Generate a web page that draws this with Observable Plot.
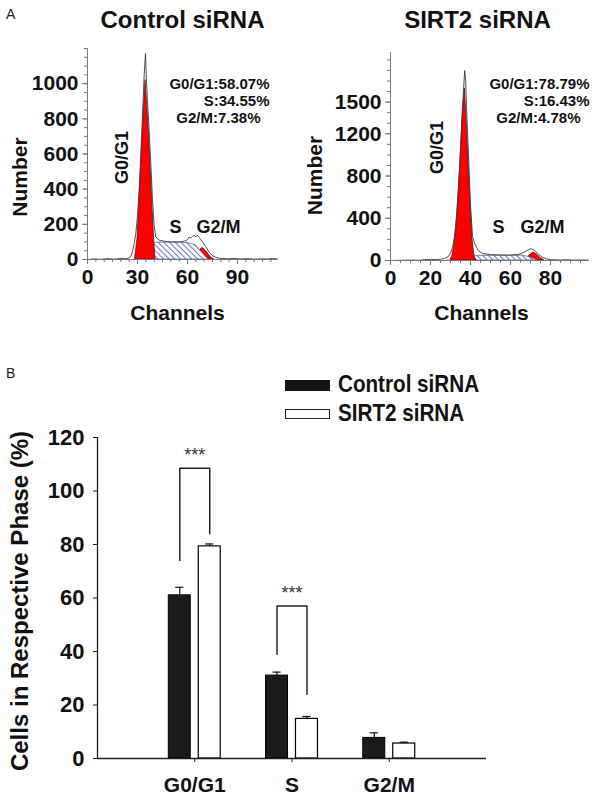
<!DOCTYPE html>
<html>
<head>
<meta charset="utf-8">
<script src="https://cdn.jsdelivr.net/npm/d3@7"></script>
<script src="https://cdn.jsdelivr.net/npm/@observablehq/plot@0.6"></script>
<style>
  html, body { margin: 0; padding: 0; background: #fff; }
  #root { position: relative; width: 600px; height: 803px; overflow: hidden; font-family: "Liberation Sans", Arial, sans-serif; }
  .abs { position: absolute; }
  .panel { position: absolute; left: 0; top: 0; }
</style>
</head>
<body>
<div id="root"></div>
<script>
// ---------------- DATA ----------------
const phaseNames = ["G0/G1", "S", "G2/M"];
const groupNames = ["Control siRNA", "SIRT2 siRNA"];

// Panel A – percentages printed on the histograms
const ctrlPercent = [58.07, 34.55, 7.38];
const sirtPercent = [78.79, 16.43, 4.78];

// Panel A – histogram traces: [channel, number]
const ctrlOutline = [[0,0],[4,3],[8,1],[12,5],[16,2],[20,6],[23,4],[25,9],[26,18],[27,45],[28,90],[29,150],[30,250],[31,400],[32,600],[33,820],[34,1050],[34.8,1172],[35.4,1010],[36,900],[37,730],[38,540],[39,340],[40,190],[41,128],[43,110],[46,104],[50,100],[55,100],[58,104],[60,112],[61,128],[62,122],[63,132],[64,136],[65,128],[66,138],[67,126],[68,112],[69,100],[71,72],[73,42],[75,22],[77,12],[80,6],[84,4],[88,6],[92,3],[96,5],[100,2],[104,4],[108,3],[111,6],[114,3]];
const ctrlG1 = [[28.5,0],[30,120],[31,300],[32,500],[33,700],[34,880],[34.8,1020],[35.8,880],[37,700],[38,500],[39,300],[40,110],[40.8,0]];
const ctrlS = [[33.5,0],[38.8,95],[45,96],[50,96],[55,95],[60,94],[64.8,82],[72.5,0]];
const ctrlG2 = [[64,0],[66,25],[68,58],[69,66],[70,60],[72,38],[74,12],[76,0]];

const sirtOutline = [[0,0],[5,2],[10,4],[14,3],[17,8],[20,10],[23,9],[25,12],[27,20],[29,40],[30,70],[31,120],[32,230],[33,420],[34,700],[35,1050],[36,1450],[37.1,1800],[37.6,1700],[38,1450],[39,1000],[40,520],[41,230],[42,165],[43,125],[44,92],[46,66],[50,56],[55,52],[60,52],[64,58],[66,70],[68,92],[70,112],[71,106],[72,96],[74,60],[76,30],[78,16],[80,8],[84,5],[88,7],[92,4],[95,6],[99,3]];
const sirtG1 = [[30,0],[31,50],[32,150],[33,320],[34,600],[35,950],[36,1350],[37.2,1630],[38,1350],[39,950],[40,550],[41,200],[42,40],[43,0]];
const sirtS = [[31,0],[38,42],[44,44],[50,44],[55,45],[60,44],[66,45],[69,35],[73.5,0]];
const sirtG2 = [[66,0],[68,20],[70,55],[71.5,76],[73,60],[75,25],[77,0]];

const ctrlXTicks = [0, 30, 60, 90];
const ctrlYTicks = [0, 200, 400, 600, 800, 1000];
const sirtXTicks = [0, 20, 40, 60, 80];
const sirtYTicks = [0, 400, 800, 1200, 1500];

// Panel B – mean ± SEM (%)
const controlMean = [61.0, 31.0, 7.7];
const controlErr  = [3.0, 1.3, 1.9];
const sirt2Mean   = [79.3, 14.8, 5.6];
const sirt2Err    = [0.9, 0.9, 0.5];
const barYTicks   = [0, 20, 40, 60, 80, 100, 120];

// Panel B – significance brackets
const sigPhaseIdx   = [0, 1];
const sigLeftFoot   = [74, 39];
const sigTop        = [108.5, 57];
const sigRightFoot  = [84, 24];
const sigLabel      = ["***", "***"];

// ---------------- DRAWING ----------------
const FONT = "'Liberation Sans', Arial, Helvetica, sans-serif";
const root = document.getElementById("root");
const plain = d => String(d);

function addHatch(svg, id) {
  const ns = "http://www.w3.org/2000/svg";
  const defs = document.createElementNS(ns, "defs");
  const pat = document.createElementNS(ns, "pattern");
  const W = 4;
  pat.setAttribute("id", id);
  pat.setAttribute("patternUnits", "userSpaceOnUse");
  pat.setAttribute("width", W);
  pat.setAttribute("height", W);
  pat.setAttribute("patternTransform", "rotate(-45)");
  const bg = document.createElementNS(ns, "rect");
  bg.setAttribute("width", W); bg.setAttribute("height", W); bg.setAttribute("fill", "#ffffff");
  const ln = document.createElementNS(ns, "line");
  ln.setAttribute("x1", "0.5"); ln.setAttribute("y1", "0");
  ln.setAttribute("x2", "0.5"); ln.setAttribute("y2", W);
  ln.setAttribute("stroke", "#5866d0"); ln.setAttribute("stroke-width", "0.9");
  pat.appendChild(bg); pat.appendChild(ln); defs.appendChild(pat);
  svg.insertBefore(defs, svg.firstChild);
}

function histogram(cfg) {
  const X = d => d[0], Y = d => d[1];
  const pctText = [
    `${phaseNames[0]}:${cfg.pct[0].toFixed(2)}%`,
    `${phaseNames[1]}:${cfg.pct[1].toFixed(2)}%`,
    `${phaseNames[2]}:${cfg.pct[2].toFixed(2)}%`
  ];
  const t = cfg.text;
  const svg = Plot.plot({
    width: 300, height: 330,
    marginLeft: cfg.mL, marginRight: cfg.mR, marginTop: cfg.mT, marginBottom: cfg.mB,
    x: {domain: cfg.xDomain},
    y: {domain: cfg.yDomain},
    style: {fontFamily: FONT, fontWeight: "bold", fontSize: "21px", background: "transparent", overflow: "visible", color: "#000"},
    marks: [
      Plot.areaY(cfg.g2, {x: X, y: Y, fill: "#ff0000", stroke: "#5a0000", strokeWidth: 0.7}),
      Plot.areaY(cfg.s, {x: X, y: Y, fill: `url(#${cfg.hatch})`, stroke: "#555a88", strokeWidth: 0.7}),
      Plot.areaY(cfg.g1, {x: X, y: Y, fill: "#ff0000", stroke: "#5a0000", strokeWidth: 0.7}),
      Plot.lineY(cfg.outline, {x: X, y: Y, stroke: "#3a3a3a", strokeWidth: 0.9}),
      Plot.ruleX([0], {stroke: "#777", strokeWidth: 1}),
      Plot.ruleY([0], {stroke: "#777", strokeWidth: 1}),
      Plot.axisY({ticks: cfg.yMinor, tickSize: 3, tickFormat: () => "", stroke: "#777", label: null}),
      Plot.axisY({ticks: cfg.yTicks, tickSize: 5, tickPadding: cfg.yPad, tickFormat: plain, stroke: "#777", fill: "#111", label: null, fontSize: 21}),
      Plot.axisX({ticks: cfg.xMinor, tickSize: 3, tickFormat: () => "", stroke: "#777", label: null}),
      Plot.axisX({ticks: cfg.xTicks, tickSize: 5, tickPadding: 5, tickFormat: plain, stroke: "#777", fill: "#111", label: null, fontSize: 21}),
      Plot.text([cfg.title], {frameAnchor: "top", dx: t.titleDx, dy: t.titleDy, lineAnchor: "middle", textAnchor: "middle", fontSize: 24, fill: "#111"}),
      Plot.text(["Channels"], {frameAnchor: "bottom", dx: t.chDx, dy: t.chDy, lineAnchor: "middle", textAnchor: "middle", fontSize: 21, fill: "#111"}),
      Plot.text(["Number"], {frameAnchor: "left", dx: t.numDx, dy: t.numDy, rotate: -90, lineAnchor: "middle", textAnchor: "middle", fontSize: 21, fill: "#111"}),
      Plot.text([phaseNames[0]], {frameAnchor: "top-left", dx: t.g1Dx, dy: t.g1Dy, rotate: -90, lineAnchor: "middle", textAnchor: "middle", fontSize: 18, fill: "#111"}),
      Plot.text([phaseNames[1]], {frameAnchor: "top-left", dx: t.sDx, dy: t.phDy, lineAnchor: "middle", textAnchor: "middle", fontSize: 18, fill: "#111"}),
      Plot.text([phaseNames[2]], {frameAnchor: "top-left", dx: t.g2Dx, dy: t.phDy, lineAnchor: "middle", textAnchor: "middle", fontSize: 18, fill: "#111"}),
      Plot.text([pctText[0]], {frameAnchor: "top-right", dx: t.pDx, dy: t.pDy, lineAnchor: "middle", textAnchor: "end", fontSize: 15, fill: "#111"}),
      Plot.text([pctText[1]], {frameAnchor: "top-right", dx: t.pDx, dy: t.pDy + 17, lineAnchor: "middle", textAnchor: "end", fontSize: 15, fill: "#111"}),
      Plot.text([pctText[2]], {frameAnchor: "top-right", dx: t.pDx - 9, dy: t.pDy + 34, lineAnchor: "middle", textAnchor: "end", fontSize: 15, fill: "#111"})
    ]
  });
  addHatch(svg, cfg.hatch);
  svg.classList.add("panel");
  svg.style.left = cfg.left + "px";
  svg.style.top = "0px";
  root.appendChild(svg);
}

histogram({
  left: 0, mL: 87, mR: 23, mT: 48, mB: 71,
  xDomain: [0, 114], yDomain: [0, 1200],
  outline: ctrlOutline, g1: ctrlG1, s: ctrlS, g2: ctrlG2,
  xTicks: ctrlXTicks, yTicks: ctrlYTicks,
  xMinor: d3.range(0, 115, 5), yMinor: d3.range(0, 1201, 50), yPad: 4,
  title: groupNames[0], pct: ctrlPercent, hatch: "hatchCtrl",
  text: {titleDx: 0, titleDy: -28, chDx: -5, chDy: 54, numDx: -67, numDy: 23,
         g1Dx: 35, g1Dy: 109, sDx: 88, g2Dx: 131, phDy: 179, pDx: -8, pDy: 36}
});

histogram({
  left: 300, mL: 90, mR: 12, mT: 52, mB: 70,
  xDomain: [0, 99], yDomain: [0, 1970],
  outline: sirtOutline, g1: sirtG1, s: sirtS, g2: sirtG2,
  xTicks: sirtXTicks, yTicks: sirtYTicks,
  xMinor: d3.range(0, 100, 5), yMinor: d3.range(0, 1970, 100), yPad: 4,
  title: groupNames[1], pct: sirtPercent, hatch: "hatchSirt",
  text: {titleDx: -12, titleDy: -32, chDx: -8, chDy: 53, numDx: -75, numDy: 19,
         g1Dx: 47, g1Dy: 95, sDx: 108, g2Dx: 152, phDy: 175, pDx: 1, pDy: 32}
});

// ---------------- PANEL B ----------------
const OFF = 0.154, HW = 0.113, CAP = 0.042;
const ctrlRows = phaseNames.map((p, i) => ({pos: i + 1 - OFF, mean: controlMean[i], err: controlErr[i]}));
const sirtRows = phaseNames.map((p, i) => ({pos: i + 1 + OFF, mean: sirt2Mean[i], err: sirt2Err[i]}));
const allRows = ctrlRows.concat(sirtRows);
const bracketPts = sigPhaseIdx.flatMap((pi, k) => [
  {k, x: pi + 1 - OFF, y: sigLeftFoot[k]},
  {k, x: pi + 1 - OFF, y: sigTop[k]},
  {k, x: pi + 1 + OFF, y: sigTop[k]},
  {k, x: pi + 1 + OFF, y: sigRightFoot[k]}
]);
const starRows = sigPhaseIdx.map((pi, k) => ({x: pi + 1, y: sigTop[k], label: sigLabel[k]}));

const svgB = Plot.plot({
  width: 600, height: 473,
  marginLeft: 97, marginRight: 114, marginTop: 107, marginBottom: 45,
  x: {domain: [0, 4]},
  y: {domain: [0, 120]},
  style: {fontFamily: FONT, fontWeight: "bold", fontSize: "22px", background: "transparent", overflow: "visible", color: "#000"},
  marks: [
    Plot.ruleX(allRows, {x: "pos", y1: "mean", y2: d => d.mean + d.err, stroke: "#111", strokeWidth: 1.2}),
    Plot.ruleY(allRows, {y: d => d.mean + d.err, x1: d => d.pos - CAP, x2: d => d.pos + CAP, stroke: "#111", strokeWidth: 1.2}),
    Plot.rectY(ctrlRows, {x1: d => d.pos - HW, x2: d => d.pos + HW, y1: 0, y2: "mean", fill: "#1b1b1b", stroke: "#000", strokeWidth: 1}),
    Plot.rectY(sirtRows, {x1: d => d.pos - HW, x2: d => d.pos + HW, y1: 0, y2: "mean", fill: "#ffffff", stroke: "#000", strokeWidth: 1.2}),
    Plot.line(bracketPts, {x: "x", y: "y", z: "k", stroke: "#222", strokeWidth: 1.5}),
    Plot.text(starRows, {x: "x", y: "y", text: "label", dy: -13, fontSize: 18, fontWeight: "normal", fill: "#333"}),
    Plot.ruleX([0], {stroke: "#222", strokeWidth: 1.3}),
    Plot.ruleY([0], {stroke: "#222", strokeWidth: 1.3}),
    Plot.axisY({ticks: barYTicks, tickSize: 4, tickPadding: 9, tickFormat: plain, stroke: "#222", fill: "#111", label: null, fontSize: 22}),
    Plot.axisX({ticks: [1, 2, 3], tickFormat: i => phaseNames[i - 1], tickSize: 4, tickPadding: 15, stroke: "#222", fill: "#111", label: null, fontSize: 21}),
    Plot.text(["Cells in Respective Phase (%)"], {frameAnchor: "left", dx: -77, dy: 3, rotate: -90, lineAnchor: "middle", textAnchor: "middle", fontSize: 24, fill: "#111"})
  ]
});
svgB.classList.add("panel");
svgB.style.top = "330px";
root.appendChild(svgB);

// ---------------- LABELS & LEGEND ----------------
function addDiv(txt, style) {
  const d = document.createElement("div");
  d.className = "abs";
  d.textContent = txt;
  Object.assign(d.style, style);
  root.appendChild(d);
  return d;
}
addDiv("A", {left: "6px", top: "7px", fontSize: "14px", lineHeight: "14px", color: "#222"});
addDiv("B", {left: "6px", top: "366px", fontSize: "14px", lineHeight: "14px", color: "#222"});

addDiv("", {left: "285px", top: "380px", width: "45px", height: "11px", background: "#151515"});
addDiv("", {left: "285px", top: "409px", width: "43px", height: "8px", background: "#fff", border: "1px solid #222"});
const legFont = {fontFamily: FONT, fontWeight: "bold", fontSize: "24px", lineHeight: "24px", color: "#111",
                 whiteSpace: "nowrap", transform: "scaleX(0.86)", transformOrigin: "0 50%"};
addDiv(groupNames[0], Object.assign({left: "338px", top: "372px"}, legFont));
addDiv(groupNames[1], Object.assign({left: "338px", top: "401px"}, legFont));
</script>
</body>
</html>
